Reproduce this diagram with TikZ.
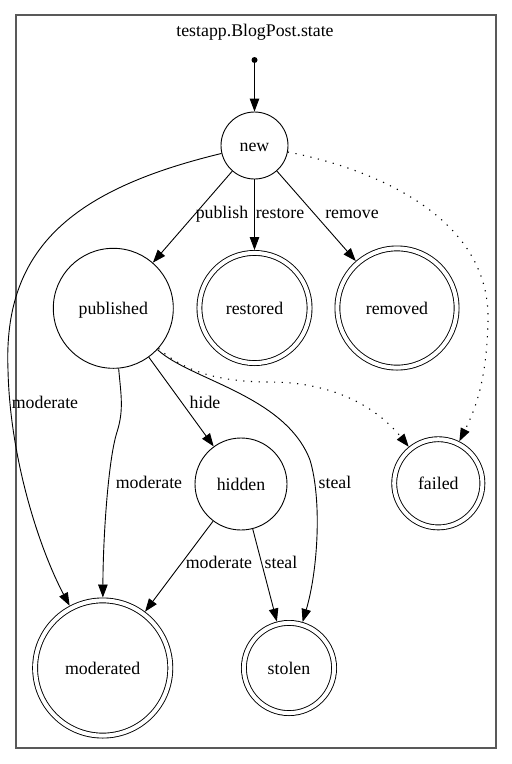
\documentclass[tikz,border=0pt]{standalone}
\usepackage{fontspec}
\setmainfont{Liberation Serif}
\usetikzlibrary{arrows.meta}
\begin{document}
\begin{tikzpicture}[x=1pt,y=-1pt,
  font=\fontsize{17.8}{20}\selectfont,
  stnode/.style={circle,draw,line width=0.9pt,inner sep=0pt,minimum size=#1,text height=12pt,text depth=-2pt},
  finnode/.style={circle,draw,line width=0.9pt,double,double distance=4pt,inner sep=0pt,minimum size=#1,outer sep=2.9pt,text height=12pt,text depth=-2pt},
  edge/.style={line width=0.9pt,-{Triangle[length=13pt,width=9.5pt]}},
  dotedge/.style={edge,line width=1.1pt,dash pattern=on 1.2pt off 6.5pt},
  lbl/.style={anchor=base,inner sep=0pt}]
\useasboundingbox (0,0) rectangle (512,764);
\fill[white] (0,0) rectangle (512,764);
\draw[black!65,line width=1.6pt] (16,15) rectangle (496,748);
\node[lbl] (title) at (255,36) {testapp.BlogPost.state};

% states
\node[circle,fill,inner sep=0pt,minimum size=6pt] (init) at (254.5,60) {};
\node[stnode=67pt] (new) at (254.5,145.5) {new};
\node[stnode=120pt] (published) at (113.3,308.3) {published};
\node[finnode=110.2pt] (restored) at (254.5,308) {restored};
\node[finnode=119.2pt] (removed) at (397,308) {removed};
\node[stnode=92pt] (hidden) at (241,484) {hidden};
\node[finnode=88.2pt] (failed) at (438.3,483.3) {failed};
\node[finnode=135.2pt] (moderated) at (102.7,668) {moderated};
\node[finnode=90.2pt] (stolen) at (289,668) {stolen};

% edges
\draw[edge] (init) -- (new);
\draw[edge] (new) -- (published);
\draw[edge] (new) -- (restored);
\draw[edge] (new) -- (removed);
\draw[dotedge] (new) .. controls (380,170) and (490,220) .. (488,320)
  .. controls (487,380) and (475,410) .. (failed);
\draw[edge] (new) .. controls (70,190) and (3,250) .. (8,370)
  .. controls (10,460) and (40,550) .. (moderated);
\draw[edge] (published) .. controls (121,395) and (124,410) .. (117,432)
  .. controls (108,460) and (103,540) .. (moderated);
\draw[edge] (published) -- (hidden);
\draw[edge] (published) .. controls (190,380) and (285,395) .. (310,460)
  .. controls (322,500) and (318,570) .. (stolen);
\draw[dotedge] (published) .. controls (185,372) and (220,382) .. (270,382)
  .. controls (330,382) and (375,405) .. (failed);
\draw[edge] (hidden) -- (moderated);
\draw[edge] (hidden) -- (stolen);

% edge labels
\node[lbl] (lpublish) at (222,218) {publish};
\node[lbl] (lrestore) at (280,218) {restore};
\node[lbl] (lremove) at (352,218) {remove};
\node[lbl] (lmod1) at (45,408.5) {moderate};
\node[lbl] (lhide) at (205,408.5) {hide};
\node[lbl] (lmod2) at (149,488.5) {moderate};
\node[lbl] (lsteal1) at (335,488.5) {steal};
\node[lbl] (lmod3) at (219,568.5) {moderate};
\node[lbl] (lsteal2) at (281,568.5) {steal};
\end{tikzpicture}
\end{document}
